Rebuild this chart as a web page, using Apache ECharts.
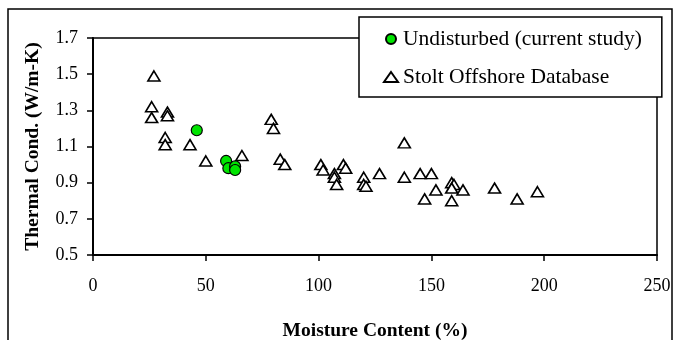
<!DOCTYPE html>
<html>
<head>
<meta charset="utf-8">
<script src="https://cdn.jsdelivr.net/npm/echarts@6/dist/echarts.min.js"></script>
<style>
  html, body { margin: 0; padding: 0; background: #fff; }
  #chart { width: 674px; height: 340px; }
</style>
</head>
<body>
<div id="chart"></div>
<script>
// undisturbed samples (current study): moisture %, conductivity
const undisturbedX = [46, 59, 60, 63, 63];
const undisturbedY = [1.19, 1.02, 0.98, 0.99, 0.97];

// Stolt Offshore database
const stoltX = [27, 26, 26, 33, 33, 32, 32, 43, 50, 66, 79, 80, 83, 85,
  101, 102, 107, 107, 108, 111, 112, 120, 120, 121, 127, 138, 138, 145, 150,
  147, 152, 159, 160, 159, 159, 164, 178, 188, 197];
const stoltY = [1.49, 1.32, 1.26, 1.29, 1.27, 1.15, 1.11, 1.11, 1.02, 1.05, 1.25, 1.20, 1.03, 1.00,
  1.00, 0.97, 0.95, 0.93, 0.89, 1.00, 0.98, 0.93, 0.89, 0.88, 0.95, 1.12, 0.93, 0.95, 0.95,
  0.81, 0.86, 0.90, 0.89, 0.87, 0.80, 0.86, 0.87, 0.81, 0.85];

const xTicks = { min: 0, max: 250, step: 50 };
const yTicks = { min: 0.5, max: 1.7, step: 0.2 };

const serif = 'Liberation Serif';
const chart = echarts.init(document.getElementById('chart'));

const pairs = (xs, ys) => xs.map((x, i) => [x, ys[i]]);

chart.setOption({
  animation: false,
  textStyle: { fontFamily: serif },
  // outer frame around the whole figure
  graphic: [{
    type: 'rect',
    shape: { x: 8, y: 9, width: 664, height: 360 },
    style: { fill: 'none', stroke: '#000', lineWidth: 1.5 },
    silent: true,
    z: -1
  }],
  grid: {
    left: 93, top: 38, right: 17, bottom: 85,
    outerBoundsMode: 'none',
    containLabel: false,
    show: true, borderColor: '#000', borderWidth: 1.5, backgroundColor: 'transparent'
  },
  legend: {
    left: 359, top: 17,
    orient: 'vertical',
    padding: [11, 20, 9, 24],
    itemGap: 16,
    itemWidth: 14,
    itemHeight: 10,
    backgroundColor: '#fff',
    borderColor: '#000',
    borderWidth: 1.5,
    borderRadius: 0,
    textStyle: { fontFamily: serif, fontSize: 21.5, color: '#000', lineHeight: 22 },
    data: ['Undisturbed (current study)', 'Stolt Offshore Database'],
    z: 10
  },
  xAxis: {
    type: 'value',
    min: xTicks.min, max: xTicks.max, interval: xTicks.step,
    name: 'Moisture Content (%)',
    nameLocation: 'middle',
    nameGap: 66,
    nameTextStyle: { fontFamily: serif, fontSize: 19.5, fontWeight: 'bold', color: '#000' },
    axisLine: { lineStyle: { color: '#000', width: 2 } },
    axisTick: { show: true, length: 6, inside: false, lineStyle: { color: '#000', width: 1.5 } },
    axisLabel: { fontFamily: serif, fontSize: 18, color: '#000', margin: 22 },
    splitLine: { show: false }
  },
  yAxis: {
    type: 'value',
    min: yTicks.min, max: yTicks.max, interval: yTicks.step,
    name: 'Thermal Cond. (W/m-K)',
    nameLocation: 'middle',
    nameGap: 50,
    nameTextStyle: { fontFamily: serif, fontSize: 19.5, fontWeight: 'bold', color: '#000' },
    axisLine: { show: true, lineStyle: { color: '#000', width: 2 } },
    axisTick: { show: true, length: 6, inside: false, lineStyle: { color: '#000', width: 1.5 } },
    axisLabel: {
      fontFamily: serif, fontSize: 18, color: '#000', margin: 15,
      formatter: v => v.toFixed(1)
    },
    splitLine: { show: false }
  },
  series: [
    {
      name: 'Stolt Offshore Database',
      type: 'scatter',
      symbol: 'triangle',
      symbolSize: [12, 10],
      itemStyle: { color: '#fff', borderColor: '#000', borderWidth: 1.6, opacity: 1 },
      data: pairs(stoltX, stoltY),
      z: 2
    },
    {
      name: 'Undisturbed (current study)',
      type: 'scatter',
      symbol: 'circle',
      symbolSize: 11,
      itemStyle: { color: '#00e400', borderColor: '#000', borderWidth: 1.2, opacity: 1 },
      data: pairs(undisturbedX, undisturbedY),
      z: 3
    }
  ]
});
</script>
</body>
</html>
